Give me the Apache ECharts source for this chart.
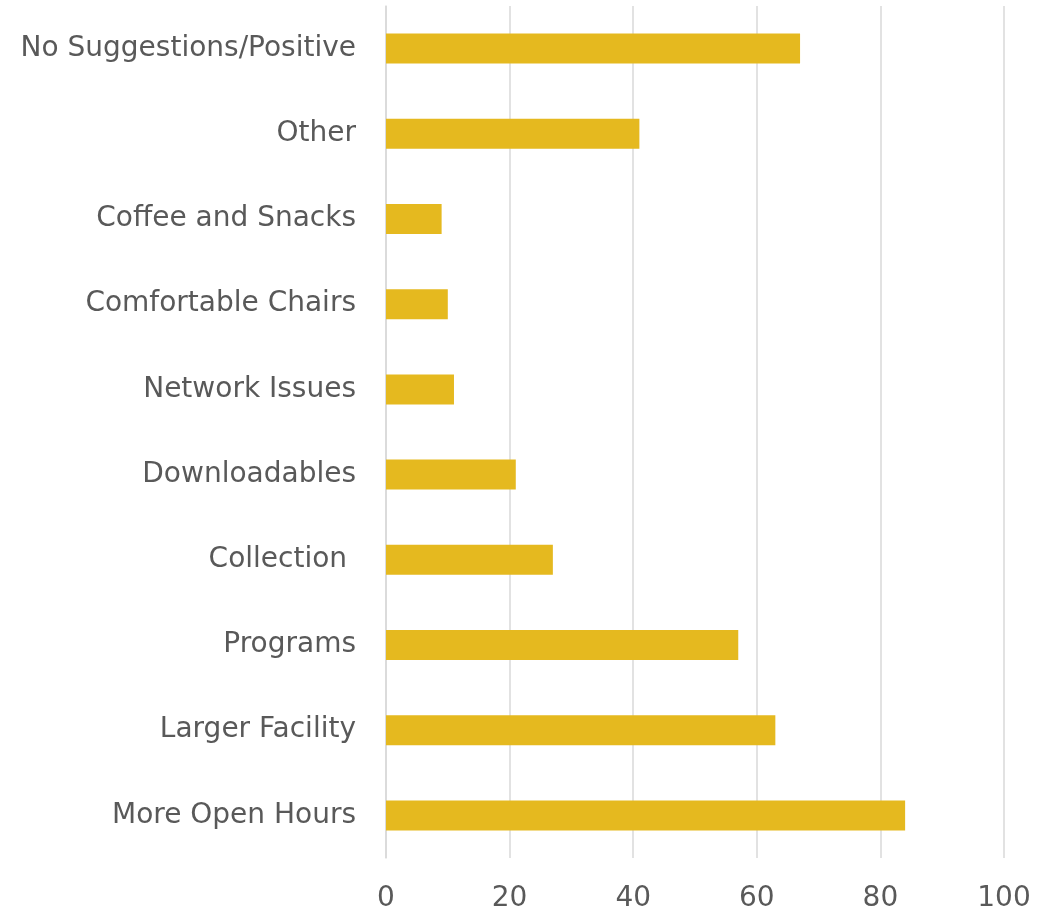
<!DOCTYPE html>
<html>
<head>
<meta charset="utf-8">
<script src="https://cdn.jsdelivr.net/npm/echarts@6/dist/echarts.min.js"></script>
<style>
  html, body { margin: 0; padding: 0; background: #fff; }
  #chart { width: 1038px; height: 915px; }
</style>
</head>
<body>
<div id="chart"></div>
<script>
const categories = ['No Suggestions/Positive', 'Other', 'Coffee and Snacks', 'Comfortable Chairs',
  'Network Issues', 'Downloadables', 'Collection ', 'Programs', 'Larger Facility', 'More Open Hours']
const counts = [67, 41, 9, 10, 11, 21, 27, 57, 63, 84]
const xTicks = [0, 20, 40, 60, 80, 100]

const chart = echarts.init(document.getElementById('chart'))
chart.setOption({
  animation: false,
  textStyle: { fontFamily: 'DejaVu Sans' },
  grid: { left: 386, right: 34, top: 6, bottom: 57 },
  xAxis: {
    type: 'value',
    min: xTicks[0],
    max: xTicks[xTicks.length - 1],
    interval: 20,
    axisLine: { show: false },
    axisTick: { show: false },
    splitLine: { lineStyle: { color: '#d9d9d9', width: 1.5 } },
    axisLabel: { color: '#595959', fontSize: 28, margin: 27 }
  },
  yAxis: {
    type: 'category',
    inverse: true,
    data: categories,
    axisLine: { lineStyle: { color: '#d9d9d9', width: 1.5 } },
    axisTick: { show: false },
    axisLabel: { color: '#595959', fontSize: 28, margin: 30 }
  },
  series: [{
    type: 'bar',
    data: counts,
    barWidth: 30,
    itemStyle: { color: '#e5b91f' }
  }]
})
</script>
</body>
</html>
